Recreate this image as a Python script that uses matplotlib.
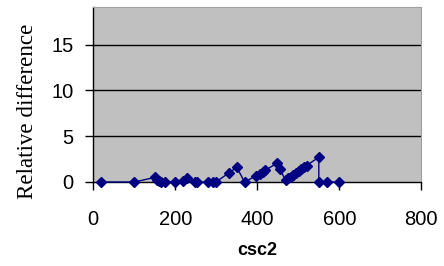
import matplotlib
matplotlib.use("Agg")
import matplotlib.pyplot as plt

x_vals = [20, 100, 150, 155, 160, 165, 176, 200, 219, 229, 248, 254, 280, 293, 299,
          331, 350, 369, 398, 406, 413, 420, 449, 455, 469, 476, 481, 488, 494, 501,
          507, 514, 520, 550, 550, 570, 600]
y_vals = [0, 0, 0.5, 0.2, 0.1, 0, 0, 0, 0.1, 0.45, 0, 0, 0, 0, 0,
          1.0, 1.6, 0, 0.7, 0.9, 1.1, 1.3, 2.07, 1.4, 0.2, 0.4, 0.6, 0.8, 1.0, 1.2,
          1.4, 1.6, 1.8, 2.7, 0, 0, 0]
x_ticks = [0, 200, 400, 600, 800]
y_ticks = [0, 5, 10, 15]

fig = plt.figure(figsize=(4.44, 2.66), dpi=100)
ax = fig.add_axes([0.2101, 0.3158, 0.7388, 0.6568])
ax.set_facecolor("#c0c0c0")
ax.plot(x_vals, y_vals, color="#000080", lw=1.0, marker="D", ms=5,
        markerfacecolor="#000080", markeredgecolor="#000080", clip_on=False, zorder=3)
ax.set_xlim(0, 800)
ax.set_ylim(0, 19.07)
ax.set_xticks(x_ticks)
ax.set_yticks(y_ticks)
for yv in y_ticks[1:]:
    ax.axhline(yv, color="black", lw=1.0, zorder=1)
for s in ["top", "right"]:
    ax.spines[s].set_color("#a0a0a0")
    ax.spines[s].set_linewidth(0.8)
for s in ["left", "bottom"]:
    ax.spines[s].set_color("black")
    ax.spines[s].set_linewidth(1.0)
ax.tick_params(axis="both", direction="out", length=6, width=1.0, color="black",
               labelsize=14.5, labelfontfamily="Liberation Sans")
ax.tick_params(axis="x", pad=14)
ax.tick_params(axis="y", pad=8)
ax.set_xlabel("csc2", fontsize=13, fontweight="bold", family="Liberation Sans", va="center")
ax.xaxis.set_label_coords(0.5, -0.392)
ax.set_ylabel("Relative difference", fontsize=16.6, family="Liberation Serif", va="center")
ax.yaxis.set_label_coords(-0.2, 0.406)
fig.savefig("out.png", dpi=100)
